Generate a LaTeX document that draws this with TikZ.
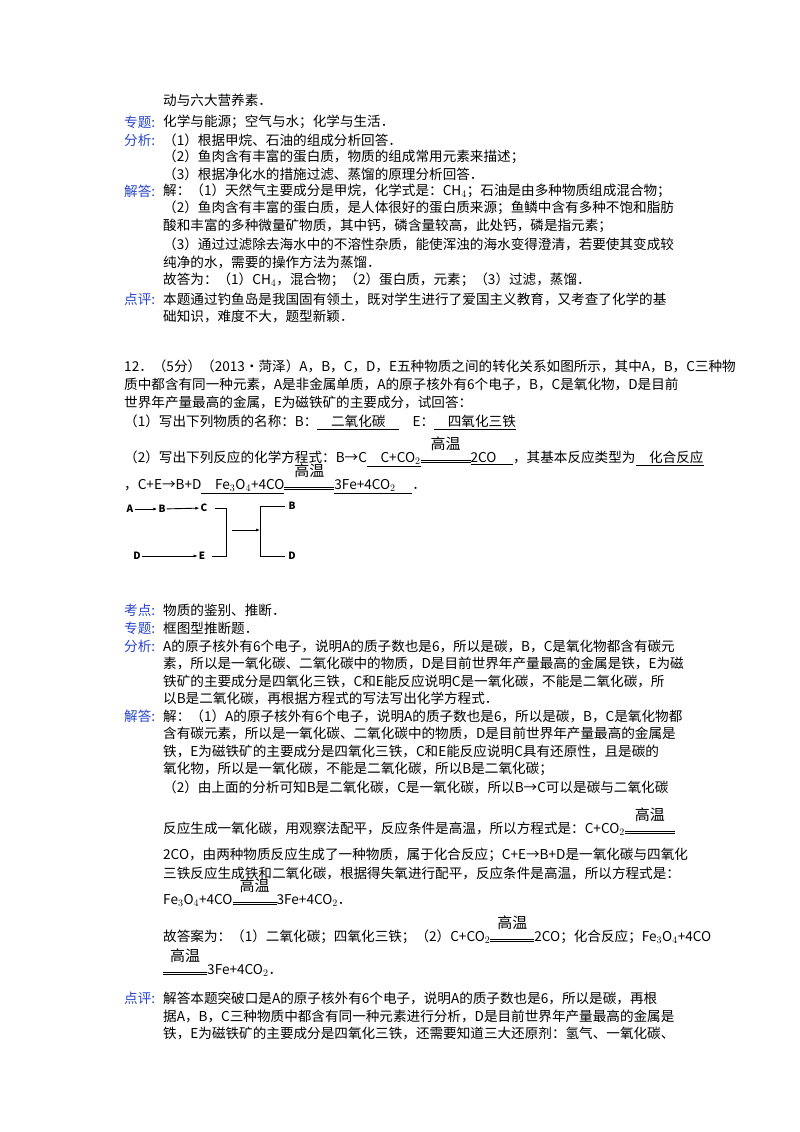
\documentclass[tikz,border=0pt]{standalone}
\usepackage{fontspec}
\setmainfont{Noto Sans CJK SC}
\usetikzlibrary{arrows.meta}
\definecolor{lab}{RGB}{40,70,200}
\newcommand\gaowen[1]{\mbox{\rlap{\raisebox{0.95em}{\makebox[#1]{\fontsize{15}{15}\selectfont 高温}}}\rlap{\rule{#1}{0.6pt}}\raisebox{2.6pt}{\rule{#1}{0.6pt}}}}
\newcommand\ul[1]{\underline{#1}}
\begin{document}
\begin{tikzpicture}[x=1pt,y=-1pt,
  tx/.style={anchor=west,inner sep=0pt,font=\fontsize{13.6}{14}\selectfont},
  lb/.style={tx,text=lab},
  dg/.style={inner sep=1pt,font=\fontsize{10}{10}\selectfont\bfseries}]
\useasboundingbox[fill=white] (0,0) rectangle (800,1132);
\node[tx] (l1) at (163,100) {动与六大营养素．};
\node[lb] (h1) at (124,122) {专题:};
\node[tx] (l2) at (163,122) {化学与能源；空气与水；化学与生活．};
\node[lb] (h2) at (124,140) {分析:};
\node[tx] (l3) at (163,140) {（1）根据甲烷、石油的组成分析回答．};
\node[tx] (l4) at (163,157) {（2）鱼肉含有丰富的蛋白质，物质的组成常用元素来描述；};
\node[tx] (l5) at (163,174) {（3）根据净化水的措施过滤、蒸馏的原理分析回答．};
\node[lb] (h3) at (124,191) {解答:};
\node[tx] (l6) at (163,191) {解：（1）天然气主要成分是甲烷，化学式是：CH$_4$；石油是由多种物质组成混合物；};
\node[tx] (l7) at (163,208) {（2）鱼肉含有丰富的蛋白质，是人体很好的蛋白质来源；鱼鳞中含有多种不饱和脂肪};
\node[tx] (l8) at (163,226) {酸和丰富的多种微量矿物质，其中钙，磷含量较高，此处钙，磷是指元素；};
\node[tx] (l9) at (163,244) {（3）通过过滤除去海水中的不溶性杂质，能使浑浊的海水变得澄清，若要使其变成较};
\node[tx] (l10) at (163,262) {纯净的水，需要的操作方法为蒸馏．};
\node[tx] (l11) at (163,280) {故答为：（1）CH$_4$，混合物；（2）蛋白质，元素；（3）过滤，蒸馏．};
\node[lb] (h4) at (124,299) {点评:};
\node[tx] (l12) at (163,299) {本题通过钓鱼岛是我国固有领土，既对学生进行了爱国主义教育，又考查了化学的基};
\node[tx] (l13) at (163,316) {础知识，难度不大，题型新颖．};
\node[tx] (q1) at (124,366) {12．（5分）（2013•菏泽）A，B，C，D，E五种物质之间的转化关系如图所示，其中A，B，C三种物};
\node[tx] (q2) at (124,384) {质中都含有同一种元素，A是非金属单质，A的原子核外有6个电子，B，C是氧化物，D是目前};
\node[tx] (q3) at (124,402) {世界年产量最高的金属，E为磁铁矿的主要成分，试回答：};
\node[tx] (q4) at (124,422) {（1）写出下列物质的名称：B：\ul{\quad 二氧化碳\quad}\quad E：\ul{\quad 四氧化三铁}};
\node[tx] (q5) at (124,452) {（2）写出下列反应的化学方程式：B→C\ul{\quad C+CO$_2$}\gaowen{50pt}\ul{2CO\quad\ }，其基本反应类型为\ul{\quad 化合反应}};
\node[tx] (q6) at (124,479) {，C+E→B+D\ul{\quad Fe$_3$O$_4$+4CO}\gaowen{50pt}\ul{3Fe+4CO$_2$\quad\ }．};
% diagram
\node[dg] (A) at (130,509) {A};
\node[dg] (B) at (162,509) {B};
\node[dg] (C) at (204,508) {C};
\node[dg] (D) at (137,556) {D};
\node[dg] (E) at (202,556) {E};
\node[dg] (B2) at (292,506) {B};
\node[dg] (D2) at (292,556) {D};
\coordinate (j1) at (232,530);
\coordinate (j2) at (260,530);
\draw[-{Latex[length=4pt]},line width=0.9pt] (A) -- (B);
\draw[-{Latex[length=4pt]},line width=0.9pt] (B) -- (C);
\draw[-{Latex[length=4pt]},line width=0.6pt] (D) -- (E);
\draw[line width=0.8pt] (C.east)++(6,0) -- ++(12,0) |- ([xshift=6pt]E.east);
\draw[-{Latex[length=4pt]},line width=0.6pt] (j1) -- (j2);
\draw[line width=0.8pt] (B2.west)++(-2,0) -| (260,556) -- ([xshift=-2pt]D2.west);
% lower
\node[lb] (h5) at (124,610) {考点:};
\node[tx] (m1) at (163,610) {物质的鉴别、推断．};
\node[lb] (h6) at (124,628) {专题:};
\node[tx] (m2) at (163,628) {框图型推断题．};
\node[lb] (h7) at (124,646) {分析:};
\node[tx] (m3) at (163,646) {A的原子核外有6个电子，说明A的质子数也是6，所以是碳，B，C是氧化物都含有碳元};
\node[tx] (m4) at (163,663) {素，所以是一氧化碳、二氧化碳中的物质，D是目前世界年产量最高的金属是铁，E为磁};
\node[tx] (m5) at (163,681) {铁矿的主要成分是四氧化三铁，C和E能反应说明C是一氧化碳，不能是二氧化碳，所};
\node[tx] (m6) at (163,698) {以B是二氧化碳，再根据方程式的写法写出化学方程式．};
\node[lb] (h8) at (124,716) {解答:};
\node[tx] (m7) at (163,716) {解：（1）A的原子核外有6个电子，说明A的质子数也是6，所以是碳，B，C是氧化物都};
\node[tx] (m8) at (163,733) {含有碳元素，所以是一氧化碳、二氧化碳中的物质，D是目前世界年产量最高的金属是};
\node[tx] (m9) at (163,751) {铁，E为磁铁矿的主要成分是四氧化三铁，C和E能反应说明C具有还原性，且是碳的};
\node[tx] (m10) at (163,769) {氧化物，所以是一氧化碳，不能是二氧化碳，所以B是二氧化碳；};
\node[tx] (m11) at (163,787) {（2）由上面的分析可知B是二氧化碳，C是一氧化碳，所以B→C可以是碳与二氧化碳};
\node[tx] (m12) at (163,822) {反应生成一氧化碳，用观察法配平，反应条件是高温，所以方程式是：C+CO$_2$\gaowen{50pt}};
\node[tx] (m13) at (163,855) {2CO，由两种物质反应生成了一种物质，属于化合反应；C+E→B+D是一氧化碳与四氧化};
\node[tx] (m14) at (163,873) {三铁反应生成铁和二氧化碳，根据得失氧进行配平，反应条件是高温，所以方程式是：};
\node[tx] (m15) at (163,893) {Fe$_3$O$_4$+4CO\gaowen{44pt}3Fe+4CO$_2$．};
\node[tx] (m16) at (163,930) {故答案为：（1）二氧化碳；四氧化三铁；（2）C+CO$_2$\gaowen{44pt}2CO；化合反应；Fe$_3$O$_4$+4CO};
\node[tx] (m17) at (163,963) {\gaowen{44pt}3Fe+4CO$_2$．};
\node[lb] (h9) at (124,998) {点评:};
\node[tx] (m18) at (163,998) {解答本题突破口是A的原子核外有6个电子，说明A的质子数也是6，所以是碳，再根};
\node[tx] (m19) at (163,1016) {据A，B，C三种物质中都含有同一种元素进行分析，D是目前世界年产量最高的金属是};
\node[tx] (m20) at (163,1033) {铁，E为磁铁矿的主要成分是四氧化三铁，还需要知道三大还原剂：氢气、一氧化碳、};
\end{tikzpicture}
\end{document}
